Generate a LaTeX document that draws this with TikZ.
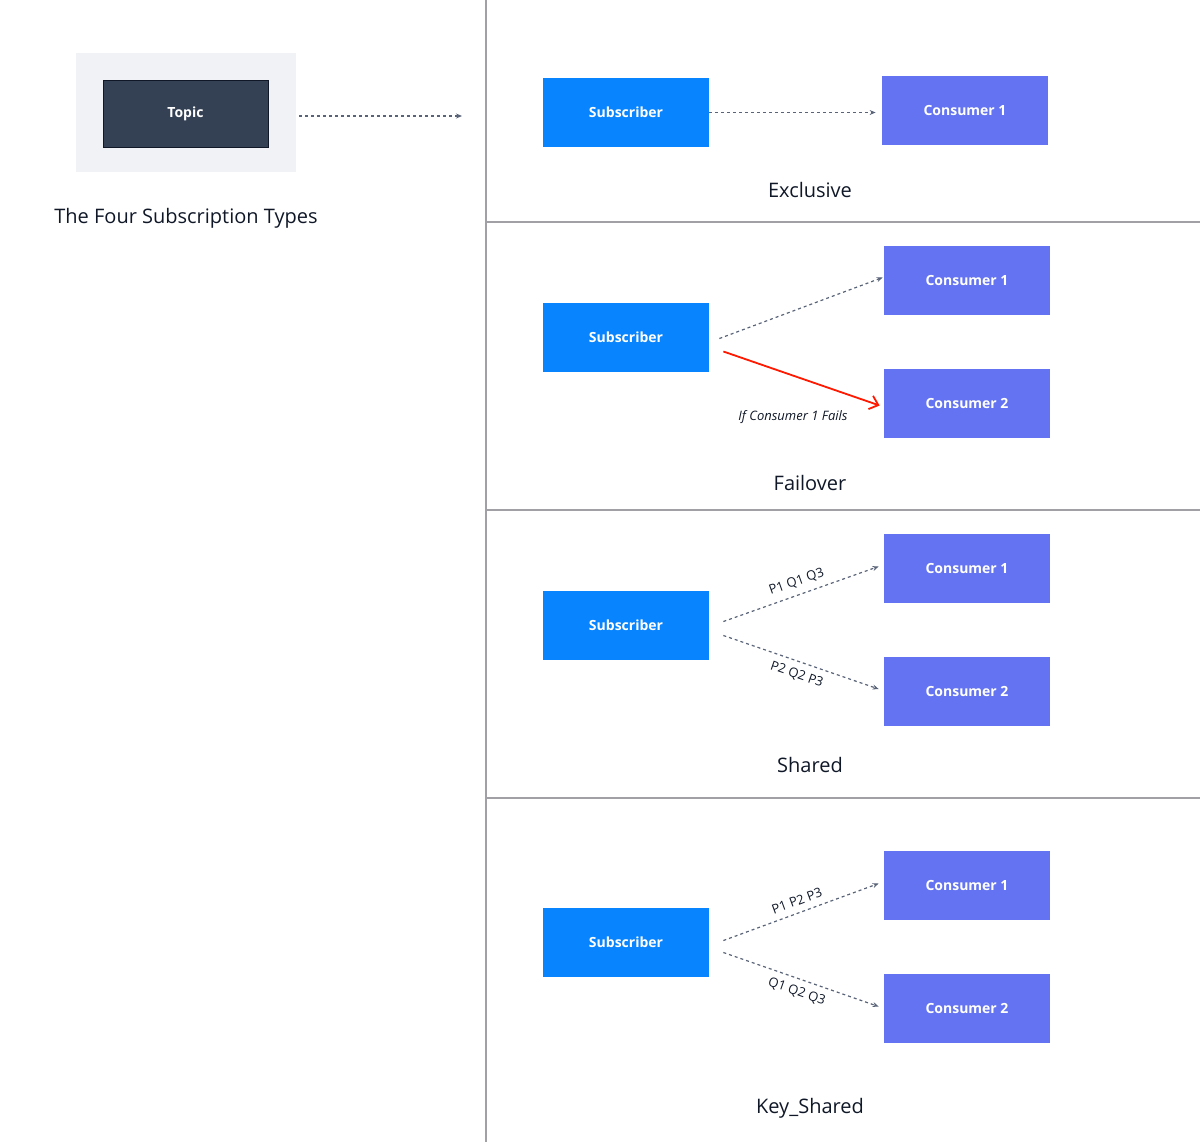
\documentclass[tikz,border=0pt]{standalone}
\usepackage{fontspec}
\setmainfont{Open Sans}
\usetikzlibrary{arrows.meta}
\definecolor{sub}{RGB}{8,132,255}
\definecolor{con}{RGB}{99,115,241}
\definecolor{dark}{RGB}{52,64,84}
\definecolor{navy}{RGB}{16,24,40}
\definecolor{arr}{RGB}{90,100,120}
\definecolor{bg}{RGB}{241,242,245}
\definecolor{sep}{RGB}{160,160,165}
\begin{document}
\begin{tikzpicture}[x=0.5pt,y=-0.5pt,
 box/.style={minimum width=83pt,minimum height=34.5pt,inner sep=0pt,text=white,font=\fontsize{7}{8}\selectfont\bfseries},
 subb/.style={box,fill=sub},
 conb/.style={box,fill=con},
 title/.style={text=navy,font=\fontsize{10}{12}\selectfont},
 lab/.style={text=navy,font=\fontsize{6.5}{8}\selectfont},
 da/.style={arr,densely dashed,dash pattern=on 1.5pt off 1.5pt,line width=0.6pt,-{Stealth[length=3pt,width=2.5pt]}}]
\useasboundingbox (0,0) rectangle (1200,1142);
\fill[bg] (76,53) rectangle (296,172);
\node[box,fill=dark,draw=navy,minimum width=82.5pt,minimum height=33.5pt] (topic) at (185.5,113.5) {Topic};
\coordinate (tA) at (299,116); \coordinate (tB) at (462,116);
\draw[da] (tA) -- (tB);
\node[title] (t) at (186,218) {The Four Subscription Types};
\draw[sep,line width=0.6pt] (486,0) -- (486,1142);
\foreach \y in {222,510,798} \draw[sep,line width=0.6pt] (486,\y) -- (1200,\y);
% Exclusive
\node[subb] (s1) at (626,112.5) {Subscriber};
\node[conb] (e1) at (965,110.5) {Consumer 1};
\draw[da] (s1.east) -- ([xshift=-3pt]e1.west|-s1.east);
\node[title] at (810,190) {Exclusive};
% Failover
\node[subb] (s2) at (626,337.5) {Subscriber};
\node[conb] (f1) at (967,280.5) {Consumer 1};
\node[conb] (f2) at (967,403.5) {Consumer 2};
\draw[da] ([xshift=5pt,yshift=-0.5pt]s2.east) -- ([xshift=-0.5pt,yshift=1.5pt]f1.west);
\draw[red!80!orange,line width=0.9pt,-{Straight Barb[length=4pt,width=7pt]}] ([xshift=7pt,yshift=-7pt]s2.east) -- ([xshift=-2pt,yshift=-1pt]f2.west);
\node[lab,font=\fontsize{6.5}{8}\selectfont\itshape] at (793,417) {If Consumer 1 Fails};
\node[title] at (810,483) {Failover};
% Shared
\node[subb] (s3) at (626,625.5) {Subscriber};
\node[conb] (h1) at (967,568.5) {Consumer 1};
\node[conb] (h2) at (967,691) {Consumer 2};
\draw[da] ([xshift=7pt,yshift=2pt]s3.east) -- node[lab,sloped,above] {P1 Q1 Q3} ([xshift=-2.5pt,yshift=1pt]h1.west);
\draw[da] ([xshift=7pt,yshift=-5pt]s3.east) -- node[lab,sloped,below] {P2 Q2 P3} ([xshift=-2.5pt,yshift=1pt]h2.west);
\node[title] at (810,765) {Shared};
% Key_Shared
\node[subb] (s4) at (626,942.5) {Subscriber};
\node[conb] (k1) at (967,885.5) {Consumer 1};
\node[conb] (k2) at (967,1008.5) {Consumer 2};
\draw[da] ([xshift=7pt,yshift=1pt]s4.east) -- node[lab,sloped,above] {P1 P2 P3} ([xshift=-2.5pt,yshift=1pt]k1.west);
\draw[da] ([xshift=7pt,yshift=-5pt]s4.east) -- node[lab,sloped,below] {Q1 Q2 Q3} ([xshift=-2.5pt,yshift=1pt]k2.west);
\node[title] at (810,1108) {Key\_Shared};
\end{tikzpicture}
\end{document}
